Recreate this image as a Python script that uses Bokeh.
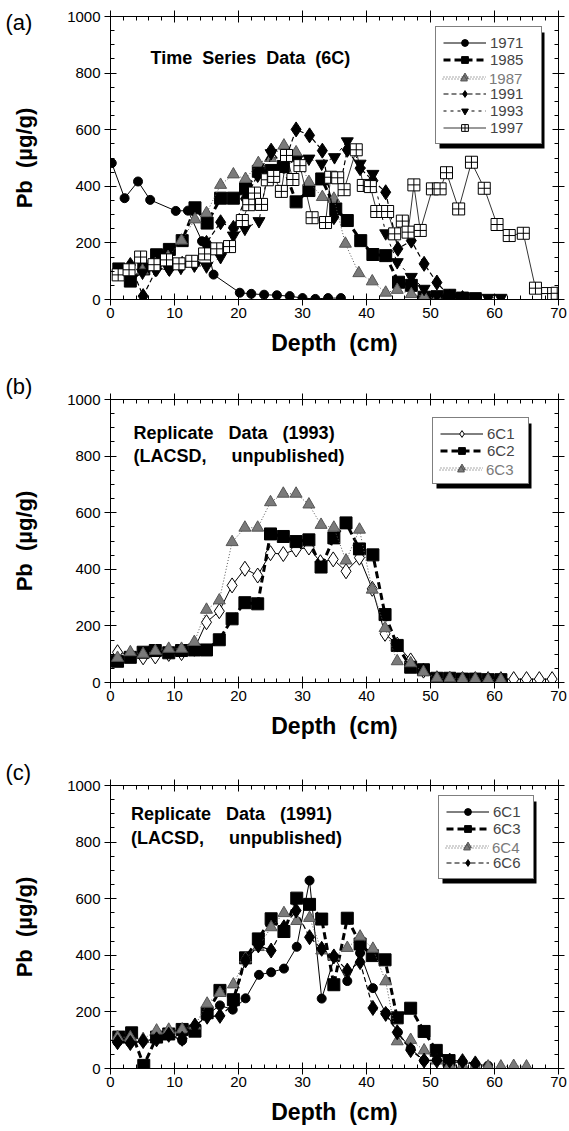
import math
from bokeh.plotting import figure
from bokeh.models import (Range1d, LinearAxis, SingleIntervalTicker, Legend, LegendItem,
                          Label, CustomJSTickFormatter, BoxAnnotation)
from bokeh.layouts import column
from bokeh.embed import file_html
from bokeh.resources import INLINE

# ---------------- data: panel (a) Time Series Data (6C) ----------------
d1971 = [0.2, 2.2, 4.3, 6.2, 10.2, 12.1, 14.3, 15.1, 16.1, 20.2, 22, 24, 26, 28, 30, 32, 34, 36]
v1971 = [482, 358, 417, 352, 313, 314, 206, 191, 88, 24, 20, 17, 15, 12, 5, 2, 5, 5]

d1985 = [1.3, 3.1, 5.2, 7.2, 9.2, 11.2, 13.2, 15.1, 17.2, 19.2, 21.1, 23.1, 25.1, 27, 29, 31, 33,
         35.2, 37, 39.1, 41, 43, 45, 47, 49, 51, 53, 55, 57]
v1985 = [108, 65, 108, 158, 177, 208, 324, 270, 358, 358, 391, 453, 456, 470, 345, 385, 426,
         320, 279, 208, 159, 155, 61, 50, 8, 10, 15, 5, 3]

d1987 = [5, 7, 9, 11.1, 13.2, 15, 17.2, 19.2, 21.1, 23.1, 25, 27.1, 29, 31, 33.1, 34.9, 36.7,
         38.8, 40.9, 43, 44.8, 47, 49, 51]
v1987 = [102, 125, 150, 208, 283, 305, 405, 442, 426, 482, 500, 544, 520, 415, 362, 356, 197,
         93, 64, 24, 34, 19, 10, 3]

d1991 = [1, 3.1, 5.1, 7.2, 9.2, 11.2, 13.2, 15, 17.2, 19.2, 21.1, 23, 25.1, 27, 29, 31.1, 33.1,
         34.9, 37, 39, 41, 43, 44.9, 47, 49, 51, 53, 55]
v1991 = [100, 122, 12, 108, 108, 126, 126, 200, 273, 253, 356, 440, 526, 473, 601, 580, 526,
         291, 529, 464, 420, 379, 179, 208, 126, 60, 10, 5]

d1993 = [5, 7, 9.1, 11, 13.1, 15, 17.2, 19.2, 21, 23.2, 25.1, 27, 29.1, 31, 33, 35, 37, 39, 41,
         43, 44.8, 47, 49, 51, 53, 55, 57, 59, 61]
v1993 = [95, 105, 108, 112, 120, 117, 150, 226, 250, 277, 517, 470, 494, 498, 480, 503, 559, 480,
         444, 234, 132, 80, 38, 15, 8, 6, 6, 6, 6]

d1997 = [1.2, 2.9, 4.7, 6.8, 8.75, 10.7, 12.7, 14.7, 16.6, 18.6, 20.6, 21.6, 22.5, 23.6, 24.5,
         25.5, 26.7, 27.5, 28.5, 29.6, 31.5, 33.6, 34.4, 35.5, 36.5, 38.4, 39.5, 40.6, 41.6,
         43.3, 44.4, 45.6, 46.5, 47.4, 48.4, 50.3, 51.5, 52.5, 54.4, 56.4, 58.4, 60.4, 62.3,
         64.5, 66.4, 68.3, 69.8]
v1997 = [87, 105, 150, 123, 140, 126, 135, 161, 179, 187, 279, 335, 376, 336, 423,
         435, 382, 509, 424, 473, 289, 272, 432, 430, 388, 529, 403, 399, 311,
         311, 232, 277, 238, 405, 244, 391, 391, 448, 320, 485, 393, 265, 226,
         234, 40, 21, 22]

# ---------------- data: panel (b) Replicate Data (1993) ----------------
b_d6C1 = [1.1, 3.1, 5.1, 7, 9.1, 11.1, 13.1, 15, 17, 19, 21, 23, 25, 27, 29, 31, 32.8, 34.8,
          36.8, 38.9, 40.9, 42.9, 44.8, 46.9, 48.9, 51, 53, 55, 57, 59, 61, 63, 65, 67, 69]
b_v6C1 = [107, 99, 89, 92, 101, 104, 119, 213, 252, 343, 402, 378, 457, 454, 470, 477, 425, 435,
          393, 441, 331, 172, 134, 78, 42, 15, 13, 12, 12, 12, 12, 12, 12, 12, 12]

b_d6C2 = [1.1, 3.1, 5.1, 7, 9.1, 11.1, 13.1, 15, 17, 19, 21, 23, 25, 27, 29, 31, 32.9, 34.9,
          36.8, 38.9, 41, 42.9, 44.8, 46.9, 48.9, 51, 53, 55, 57, 59, 61]
b_v6C2 = [75, 89, 107, 113, 105, 113, 115, 115, 151, 225, 282, 278, 525, 516, 498, 504, 408, 511,
          564, 472, 451, 240, 131, 54, 45, 15, 15, 12, 12, 10, 10]

b_d6C3 = [1.1, 3.1, 5.1, 7, 9.1, 11.1, 13.1, 15, 17, 19, 21, 23, 25, 27, 29, 31, 32.9, 34.9,
          36.8, 38.9, 40.9, 42.9, 44.8, 46.9, 48.9, 51, 53, 55, 57, 59, 61]
b_v6C3 = [87, 107, 101, 111, 119, 119, 143, 257, 290, 496, 547, 547, 637, 667, 667, 629, 557, 547,
          431, 540, 328, 192, 75, 68, 37, 15, 15, 12, 12, 10, 10]

# ---------------- data: panel (c) Replicate Data (1991) ----------------
c_d6C1 = [1.1, 3.1, 5.1, 7.2, 9.1, 11.2, 13.2, 15.1, 17.1, 19.1, 21.1, 23.2, 25.1, 27.1, 29.1,
          31.1, 33, 35, 37, 39, 41, 43, 44.9, 46.9, 49, 51, 53, 55, 57, 59]
c_v6C1 = [93, 91, 97, 105, 119, 99, 146, 190, 223, 208, 248, 331, 340, 353, 430,
          664, 247, 393, 309, 408, 284, 196, 128, 70, 28, 31, 22, 22, 15, 10]

c_d6C3 = [1.3, 3.3, 5.2, 7.2, 9.1, 11.2, 13.2, 15.1, 17.1, 19.2, 21.1, 23.1, 25.1, 27.1, 29.1,
          31.1, 33, 34.9, 37, 39, 40.9, 42.9, 44.8, 46.9, 49, 50.9, 52.9]
c_v6C3 = [111, 126, 11, 111, 122, 138, 132, 197, 276, 243, 391, 458, 529, 484, 602,
          580, 528, 296, 531, 440, 399, 384, 179, 213, 131, 64, 28]

c_d6C4 = [1.1, 3.1, 5.1, 7.2, 9.1, 11.2, 13.2, 15.1, 17.1, 19.2, 21.1, 23.1, 25.1, 27.1, 29.1,
          31.1, 33, 34.9, 37, 39, 41, 43, 44.8, 46.9, 49, 51, 53, 55, 57, 59, 61, 63, 65]
c_v6C4 = [111, 110, 104, 134, 137, 138, 152, 229, 267, 297, 388, 429, 499, 549, 521,
          532, 417, 396, 426, 466, 423, 308, 96, 101, 64, 28, 11, 9, 7, 7, 7, 9, 7]

c_d6C6 = [1.1, 3.1, 5.1, 7.2, 9.1, 11.2, 13.2, 15.1, 17.1, 19.2, 21.1, 23.1, 25.1, 27.1, 29,
          31.1, 33, 34.9, 37, 39, 41, 43, 44.8, 46.9, 49, 51, 53, 55, 57]
c_v6C6 = [93, 90, 97, 103, 119, 105, 152, 183, 186, 227, 382, 435, 417, 499, 558,
          464, 423, 396, 346, 376, 214, 193, 128, 65, 28, 28, 28, 26, 18]

x_ticks_interval = 10
y_ticks_interval = 200

FONT = "Liberation Sans"
GRAY = "#7a7a7a"
NB = "\u00a0"

FRAME_W, FRAME_H = 448, 283
X_MAX, Y_MAX = 70, 1000

STYLES = {
    "circle":   dict(line=dict(line_color="black", line_width=1),
                     mark=dict(marker="circle", size=9, fill_color="black", line_color="black")),
    "square":   dict(line=dict(line_color="black", line_width=3, line_dash="7 4"),
                     mark=dict(marker="square", size=12, fill_color="black", line_color="black")),
    "tri":      dict(line=dict(line_color="#555555", line_width=1, line_dash="1 2"),
                     mark=dict(marker="triangle", size=12, fill_color=GRAY, line_color="#555555")),
    "diamond":  dict(line=dict(line_color="black", line_width=1.2, line_dash="5 3"),
                     mark=dict(marker="diamond", size=15, fill_color="black", line_color="black")),
    "itri":     dict(line=dict(line_color="black", line_width=1, line_dash="3 4"),
                     mark=dict(marker="inverted_triangle", size=12, fill_color="black", line_color="black")),
    "sqcross":  dict(line=dict(line_color="black", line_width=0.8),
                     mark=dict(marker="square_cross", size=12, fill_color="white", line_color="black")),
    "odiamond": dict(line=dict(line_color="black", line_width=1),
                     mark=dict(marker="diamond", size=15, fill_color="white", line_color="black")),
}


def make_fig(h, top, bottom):
    p = figure(width=569, height=h, x_range=Range1d(0, X_MAX), y_range=Range1d(0, Y_MAX),
               output_backend="svg", toolbar_location=None,
               min_border_left=110, min_border_right=11, min_border_top=top,
               min_border_bottom=bottom)
    p.xgrid.visible = False
    p.ygrid.visible = False
    p.outline_line_color = "black"
    p.background_fill_color = "white"

    xa = p.xaxis[0]
    ya = p.yaxis[0]
    xa.ticker = SingleIntervalTicker(interval=x_ticks_interval, num_minor_ticks=5)
    ya.ticker = SingleIntervalTicker(interval=y_ticks_interval, num_minor_ticks=4)
    for ax in (xa, ya):
        ax.major_tick_in = 6
        ax.major_tick_out = 6
        ax.minor_tick_in = 4
        ax.minor_tick_out = 0
        ax.axis_line_color = "black"
        ax.major_tick_line_color = "black"
        ax.minor_tick_line_color = "black"
        ax.major_label_text_font = FONT
        ax.major_label_text_font_size = "15px"
        ax.major_label_text_color = "black"
        ax.axis_label_text_font = FONT
        ax.axis_label_text_font_style = "bold"
        ax.axis_label_text_color = "black"
    xa.axis_label = "Depth" + NB + NB + "(cm)"
    xa.axis_label_text_font_size = "23px"
    xa.major_label_standoff = 2
    xa.axis_label_standoff = 9
    ya.major_label_standoff = 4

    for loc, interval, nminor in (("above", x_ticks_interval, 5), ("right", y_ticks_interval, 4)):
        ax = LinearAxis(ticker=SingleIntervalTicker(interval=interval, num_minor_ticks=nminor),
                        formatter=CustomJSTickFormatter(code="return ''"),
                        major_label_text_font_size="1px", major_label_standoff=0,
                        major_tick_in=6, major_tick_out=6, minor_tick_in=4, minor_tick_out=0,
                        axis_line_color="black")
        p.add_layout(ax, loc)

    # y-axis title, drawn in the left side panel (not clipped to the frame)
    p.add_layout(Label(x=-13.4, y=500, text="Pb" + NB + NB + "(µg/g)", angle=math.pi / 2,
                       text_font=FONT, text_font_size="22px", text_font_style="bold",
                       text_align="center", text_baseline="middle", text_color="black"), "left")
    return p


def add_series(p, xs, ys, kind):
    st = STYLES[kind]
    r1 = p.line(xs, ys, **st["line"])
    r2 = p.scatter(xs, ys, **st["mark"])
    return [r1, r2]


ROW = 17
LEG = dict(label_text_font=FONT, label_text_font_size="15px", glyph_width=43, glyph_height=ROW,
           label_height=ROW, label_standoff=4, spacing=0, padding=7, margin=0)
OVERLAY_DX, OVERLAY_DY = 7, 6


def add_legend(p, entries, loc_x, loc_top, label_w, gray_name):
    n = len(entries)
    pad = LEG["padding"]
    W = 2 * pad + LEG["glyph_width"] + LEG["label_standoff"] + label_w
    H = 2 * pad + n * ROW
    loc_y = FRAME_H - loc_top - H
    sx, sy = X_MAX / FRAME_W, Y_MAX / FRAME_H
    off = 4
    # drop shadow (decoration)
    p.add_layout(BoxAnnotation(left=(loc_x + off) * sx, right=(loc_x + W + off) * sx,
                               bottom=(loc_y - off) * sy, top=(loc_y + H - off) * sy,
                               fill_color="black", fill_alpha=1.0, line_color=None))
    items = [LegendItem(label=("" if lab == gray_name else lab), renderers=rs)
             for lab, rs in entries]
    p.add_layout(Legend(items=items, location=(loc_x, loc_y), border_line_color="black",
                        border_line_width=1.5, background_fill_color="white",
                        background_fill_alpha=1.0, label_width=label_w, **LEG))
    # grey-labelled entry drawn by an overlay legend aligned on its row
    idx = [lab for lab, _ in entries].index(gray_name)
    rs = dict(entries)[gray_name]
    p.add_layout(Legend(items=[LegendItem(label=gray_name, renderers=rs)],
                        location=(loc_x + OVERLAY_DX,
                                  loc_y + H - idx * ROW - (2 * pad + ROW) + OVERLAY_DY),
                        border_line_color=None, background_fill_alpha=0.0,
                        label_text_color=GRAY, label_width=label_w, **LEG))


def add_text(p, x, y, text, size="18px"):
    p.add_layout(Label(x=x, y=y, text=text, text_font=FONT, text_font_size=size,
                       text_font_style="bold", text_baseline="middle", text_color="black"))


def add_panel_label(p, y, text):
    p.add_layout(Label(x=-16.4, y=y, text=text, text_font=FONT, text_font_size="22px",
                       text_baseline="middle", text_color="black"), "left")


G2 = NB + " "
G3 = NB + NB + " "
G5 = NB + NB + NB + NB + " "

# ---------------- panel (a) ----------------
pa = make_fig(373, 16, 74)
ra = [
    ("1971", add_series(pa, d1971, v1971, "circle")),
    ("1985", add_series(pa, d1985, v1985, "square")),
    ("1987", add_series(pa, d1987, v1987, "tri")),
    ("1991", add_series(pa, d1991, v1991, "diamond")),
    ("1993", add_series(pa, d1993, v1993, "itri")),
    ("1997", add_series(pa, d1997, v1997, "sqcross")),
]
add_legend(pa, ra, 325, 12, 44, "1987")
add_text(pa, 6.25, 855, "Time" + G2 + "Series" + G2 + "Data" + G2 + "(6C)")
add_panel_label(pa, 980, "(a)")

# ---------------- panel (b) ----------------
pb = make_fig(386, 26, 77)
rb = [
    ("6C1", add_series(pb, b_d6C1, b_v6C1, "odiamond")),
    ("6C2", add_series(pb, b_d6C2, b_v6C2, "square")),
    ("6C3", add_series(pb, b_d6C3, b_v6C3, "tri")),
]
add_legend(pb, rb, 322, 20, 34, "6C3")
add_text(pb, 3.6, 883, "Replicate" + G3 + "Data" + G3 + "(1993)")
add_text(pb, 3.6, 802, "(LACSD," + G5 + "unpublished)")
add_panel_label(pb, 1046, "(b)")

# ---------------- panel (c) ----------------
pc = make_fig(372, 26, 63)
rc = [
    ("6C1", add_series(pc, c_d6C1, c_v6C1, "circle")),
    ("6C3", add_series(pc, c_d6C3, c_v6C3, "square")),
    ("6C4", add_series(pc, c_d6C4, c_v6C4, "tri")),
    ("6C6", add_series(pc, c_d6C6, c_v6C6, "diamond")),
]
add_legend(pc, rc, 328, 12, 33, "6C4")
add_text(pc, 3.2, 898, "Replicate" + G3 + "Data" + G3 + "(1991)")
add_text(pc, 3.2, 816, "(LACSD," + G5 + "unpublished)")
add_panel_label(pc, 1046, "(c)")

layout = column(pa, pb, pc, spacing=0)
open("out.html", "w").write(file_html(layout, INLINE))
